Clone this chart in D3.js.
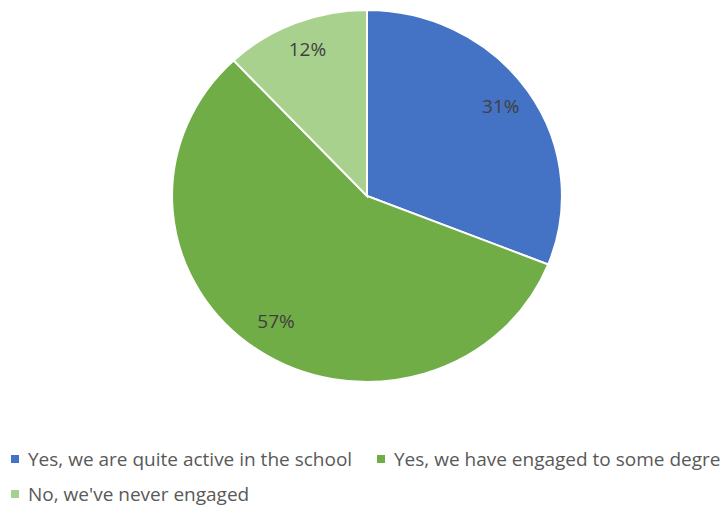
<!DOCTYPE html>
<html>
<head>
<meta charset="utf-8">
<script src="https://cdn.jsdelivr.net/npm/d3@7"></script>
<style>
  html, body { margin: 0; padding: 0; background: #fff; overflow: hidden; }
  svg { display: block; font-family: "Open Sans", "Liberation Sans", sans-serif; }
</style>
</head>
<body>
<svg id="chart" width="721" height="510"></svg>
<script>
// Survey answers and their shares
const categories = [
  "Yes, we are quite active in the school",
  "Yes, we have engaged to some degree",
  "No, we've never engaged"
];
const values = [31, 57, 12];
const colors = ["#4472C4", "#70AD47", "#A9D18E"];

const svg = d3.select("#chart");
const cx = 367, cy = 196, r = 186, sx = 1.048;

const pie = d3.pie().sort(null).value(d => d.value);
const data = pie(categories.map((c, i) => ({ name: c, value: values[i], color: colors[i] })));
const arc = d3.arc().innerRadius(0).outerRadius(r);
const labelArc = d3.arc().innerRadius(r * 0.83).outerRadius(r * 0.83);

const g = svg.append("g").attr("transform", `translate(${cx},${cy}) scale(${sx},1)`);
g.selectAll("path")
  .data(data)
  .join("path")
  .attr("d", arc)
  .attr("fill", d => d.data.color)
  .attr("stroke", "#fff")
  .attr("stroke-width", 2)
  .attr("vector-effect", "non-scaling-stroke");

// percentage labels placed on the stretched pie
svg.append("g").selectAll("text")
  .data(data)
  .join("text")
  .attr("x", d => cx + labelArc.centroid(d)[0] * sx)
  .attr("y", d => cy + labelArc.centroid(d)[1] - 3)
  .attr("text-anchor", "middle")
  .attr("dominant-baseline", "central")
  .attr("font-size", 19)
  .attr("fill", "#404040")
  .text(d => d.data.value + "%");

// legend
const legendPos = [[11, 459], [377, 459], [11, 494]];
const lg = svg.append("g").selectAll("g")
  .data(data)
  .join("g")
  .attr("transform", (d, i) => `translate(${legendPos[i][0]},${legendPos[i][1]})`);
lg.append("rect")
  .attr("x", 0).attr("y", -4)
  .attr("width", 8).attr("height", 8)
  .attr("fill", d => d.data.color);
lg.append("text")
  .attr("x", 17)
  .attr("y", 0)
  .attr("dominant-baseline", "central")
  .attr("font-size", 19)
  .attr("fill", "#595959")
  .text(d => d.data.name);
</script>
</body>
</html>
